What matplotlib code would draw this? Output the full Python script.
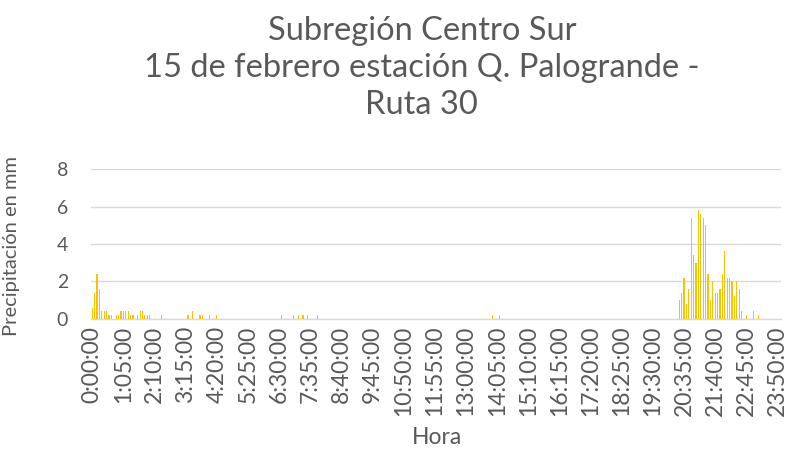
import matplotlib
matplotlib.use("Agg")
import matplotlib.pyplot as plt
import numpy as np

# 5-minute time categories for the whole day
hours = [f"{(m // 60)}:{m % 60:02d}:00" for m in range(0, 24 * 60, 5)]

# non-zero precipitation readings (category index -> mm)
rain_index = [0, 1, 2, 3, 4, 5, 6, 7, 8, 10, 11, 12, 13, 14, 15, 16, 17, 19, 20, 21, 22, 23, 24,
              29, 40, 42, 45, 46, 49, 52, 79, 84, 86, 88, 90, 94, 167, 170,
              245, 246, 247, 248, 249, 250, 251, 252, 253, 254, 255, 256, 257, 258, 259, 260,
              261, 262, 263, 264, 265, 266, 267, 268, 269, 270, 271, 273, 276, 278]
rain_mm = [0.6, 1.4, 2.4, 1.6, 0.4, 0.4, 0.4, 0.2, 0.2, 0.2, 0.2, 0.4, 0.4, 0.4, 0.4, 0.2, 0.2, 0.2,
           0.4, 0.4, 0.2, 0.2, 0.2,
           0.2, 0.2, 0.4, 0.2, 0.2, 0.2, 0.2, 0.2, 0.2, 0.2, 0.2, 0.2, 0.2, 0.2, 0.2,
           1.0, 1.4, 2.2, 0.8, 1.6, 5.4, 3.4, 3.0, 5.8, 5.6, 5.4, 5.0, 2.4, 1.0, 2.0, 1.4,
           1.4, 1.6, 2.4, 3.6, 2.2, 2.2, 2.0, 1.2, 2.0, 1.6, 0.4, 0.2, 0.4, 0.2]

values = np.zeros(len(hours))
for i, v in zip(rain_index, rain_mm):
    values[i] = v

title = "Subregión Centro Sur\n15 de febrero estación Q. Palogrande -\nRuta 30"
text_color = "#595959"
font = "Lato"

fig = plt.figure(figsize=(7.96, 4.58), dpi=100)
ax = fig.add_axes([0.1143, 0.3041, 0.867, 0.3262])

x = np.arange(len(hours))
ax.bar(x, values, width=0.5, color="#FFC000", zorder=3)

ax.set_xlim(-0.5, len(hours) - 0.5)
ax.set_ylim(0, 8)
ax.set_yticks([0, 2, 4, 6, 8])
ax.yaxis.grid(True, color="#D9D9D9", linewidth=1.0, zorder=0)
ax.set_axisbelow(True)

tick_pos = x[::13]
ax.set_xticks(tick_pos)
ax.set_xticklabels([hours[i] for i in tick_pos], rotation=90, fontsize=16.5,
                   color=text_color, family=font)
for lab in ax.get_yticklabels():
    lab.set_fontsize(14)
    lab.set_color(text_color)
    lab.set_family(font)
ax.tick_params(axis="x", length=0, pad=5)
ax.tick_params(axis="y", length=0, pad=16.5)

for s in ["top", "right", "left"]:
    ax.spines[s].set_visible(False)
ax.spines["bottom"].set_color("#D9D9D9")
ax.spines["bottom"].set_linewidth(1.0)

fig.text(0.549, 1 - 437 / 458, "Hora", ha="center", va="center", fontsize=16.5,
         color=text_color, family=font)
fig.text(12 / 796, 1 - 246 / 458, "Precipitación en mm", ha="center", va="center",
         rotation=90, fontsize=14.5, color=text_color, family=font)

fig.text(0.530, 1 - 68 / 458, title, ha="center", va="center", fontsize=23.5,
         color=text_color, family=font, linespacing=1.3)

fig.savefig("out.png", dpi=100, facecolor="white")
